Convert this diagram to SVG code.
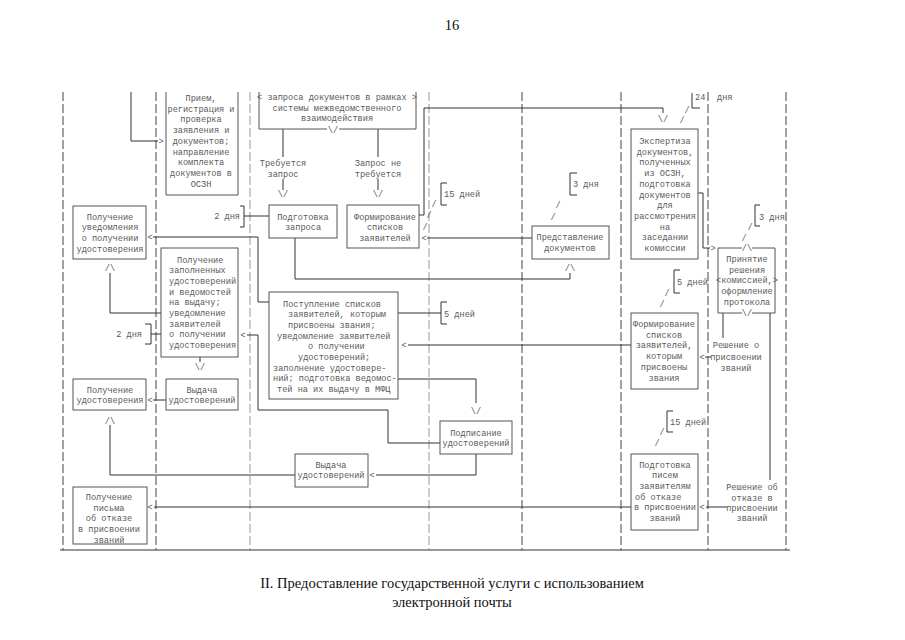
<svg xmlns="http://www.w3.org/2000/svg" width="905" height="640" viewBox="0 0 905 640">
<style>
.bg{fill:#fff}
.lane{stroke:#444;stroke-width:1;stroke-dasharray:9,3;fill:none}
.lanel{stroke:#999;stroke-width:1;stroke-dasharray:9,3;fill:none}
.box{fill:none;stroke:#555;stroke-width:1}
.c{fill:none;stroke:#333;stroke-width:1}
.t{font-family:"Liberation Mono","DejaVu Sans Mono",monospace;font-size:8.6px;fill:#5a5a5a}
.m{text-anchor:middle}
.e{text-anchor:end}
.s{font-family:"Liberation Serif","Times New Roman",serif;font-size:14.5px;fill:#111;text-anchor:middle}
</style>
<rect class="bg" x="0" y="0" width="905" height="640"/>
<text class="s" x="452" y="30">16</text>

<g id="lanes">
<line class="lane" x1="63" y1="92" x2="63" y2="550"/>
<line class="lane" x1="156" y1="92" x2="156" y2="550"/>
<line class="lanel" x1="250" y1="92" x2="250" y2="550"/>
<line class="lanel" x1="429" y1="92" x2="429" y2="550"/>
<line class="lane" x1="522" y1="92" x2="522" y2="550"/>
<line class="lane" x1="621" y1="92" x2="621" y2="550"/>
<line class="lane" x1="708" y1="92" x2="708" y2="550"/>
<line class="lane" x1="786" y1="92" x2="786" y2="550"/>
<line x1="60" y1="550" x2="790" y2="550" stroke="#333" stroke-width="1"/>
</g>

<g id="connectors">
<path class="c" d="M131,92 V141 H158"/>
<path class="c" d="M283,129 V157 M283,179 V190 M378,129 V157 M378,179 V190"/>
<path class="c" d="M240,206 H244 V227 H240 M244,216 H269"/>
<path class="c" d="M419,215 H424 V108 H663 V113"/>
<path class="c" d="M447,183 H441 V205 H447"/>
<path class="c" d="M427,238 H532"/>
<path class="c" d="M577,173 H570 V195 H577"/>
<path class="c" d="M295,238 V279 H570 V273"/>
<path class="c" d="M269,302 H258 V237 H153"/>
<path class="c" d="M161,313 H110 V273"/>
<path class="c" d="M145,324 H151 V344 H145 M151,334 H161"/>
<path class="c" d="M247,335 H258 V410 H388 V443 H440"/>
<path class="c" d="M200,357 V362"/>
<path class="c" d="M166,400 H153"/>
<path class="c" d="M295,475 H110 V425"/>
<path class="c" d="M398,379 H476 V403"/>
<path class="c" d="M476,454 V475 H376"/>
<path class="c" d="M447,302 H441 V324 H447 M398,313 H441"/>
<path class="c" d="M408,345 H631"/>
<path class="c" d="M698,193 H703 V248 H710"/>
<path class="c" d="M692,93 V108 H700"/>
<path class="c" d="M760,205 H755 V226 H760"/>
<path class="c" d="M680,270 H674 V293 H680"/>
<path class="c" d="M723,313 V338"/>
<path class="c" d="M705,357 H711"/>
<path class="c" d="M673,411 H667 V432 H673"/>
<path class="c" d="M770,313 V480"/>
<path class="c" d="M706,507 H727"/>
<path class="c" d="M631,507 H154"/>

<text class="t m" x="161" y="144">&gt;</text>
<text class="t m" x="283" y="197">\/</text>
<text class="t m" x="378" y="197">\/</text>
<text class="t m" x="434" y="207">/</text>
<text class="t m" x="429" y="218">/</text>
<text class="t m" x="425" y="230">/</text>
<text class="t m" x="424" y="241">&lt;</text>
<text class="t m" x="558" y="208">/</text>
<text class="t m" x="553" y="220">/</text>
<text class="t m" x="570" y="271">/\</text>
<text class="t m" x="150" y="240">&lt;</text>
<text class="t m" x="110" y="271">/\</text>
<text class="t m" x="243" y="338">&lt;</text>
<text class="t m" x="200" y="370">\/</text>
<text class="t m" x="150" y="403">&lt;</text>
<text class="t m" x="110" y="424">/\</text>
<text class="t m" x="372" y="478">&lt;</text>
<text class="t m" x="476" y="414">\/</text>
<text class="t m" x="404" y="348">&lt;</text>
<text class="t m" x="667" y="296">/</text>
<text class="t m" x="662" y="307">/</text>
<text class="t m" x="702" y="360">&lt;</text>
<text class="t m" x="713" y="251">&gt;</text>
<text class="t m" x="750" y="230">/</text>
<text class="t m" x="744" y="241">/</text>
<text class="t m" x="663" y="122">\/</text>
<text class="t m" x="682" y="123">/</text>
<text class="t m" x="687" y="113">/</text>
<text class="t m" x="662" y="435">/</text>
<text class="t m" x="657" y="446">/</text>
<text class="t m" x="702" y="510">&lt;</text>
<text class="t m" x="150" y="510">&lt;</text>

<text class="t m" x="283" y="165.5">Требуется</text>
<text class="t m" x="283" y="176.5">запрос</text>
<text class="t m" x="378" y="165.5">Запрос не</text>
<text class="t m" x="378" y="176.5">требуется</text>
<text class="t e" x="240" y="219">2 дня</text>
<text class="t" x="444" y="197">15 дней</text>
<text class="t" x="573" y="187">3 дня</text>
<text class="t" y="100"><tspan x="695">24</tspan><tspan x="717">дня</tspan></text>
<text class="t" x="759" y="219.5">3 дня</text>
<text class="t" x="677" y="285">5 дней</text>
<text class="t" x="444" y="316.5">5 дней</text>
<text class="t e" x="142" y="337">2 дня</text>
<text class="t" x="670" y="425">15 дней</text>
<text class="t m" x="736" y="348">Решение о</text>
<text class="t m" x="736" y="360">присвоении</text>
<text class="t m" x="736" y="371">званий</text>
<text class="t m" x="752" y="490">Решение об</text>
<text class="t m" x="752" y="500.5">отказе в</text>
<text class="t m" x="752" y="510.5">присвоении</text>
<text class="t m" x="752" y="521">званий</text>
</g>

<g id="n-priem">
<path class="box" d="M166,92 V195 H238 V92"/>
<text class="t m" x="201" y="101">Прием,</text>
<text class="t m" x="201" y="111.7">регистрация и</text>
<text class="t m" x="201" y="122.4">проверка</text>
<text class="t m" x="201" y="133.1">заявления и</text>
<text class="t m" x="201" y="143.8">документов;</text>
<text class="t m" x="201" y="154.5">направление</text>
<text class="t m" x="201" y="165.2">комплекта</text>
<text class="t m" x="201" y="175.9">документов в</text>
<text class="t m" x="201" y="186.6">ОСЗН</text>
</g>

<g id="n-zapros-mv">
<path class="box" d="M259,92 V129 H327 M339,129 H416 V92"/>
<text class="t m" x="337" y="100">&lt; запроса документов в рамках &gt;</text>
<text class="t m" x="337" y="110.7">системы межведомственного</text>
<text class="t m" x="337" y="121.4">взаимодействия</text>
<text class="t m" x="333" y="132.5">\/</text>
</g>

<g id="n-podg-zaprosa">
<rect class="box" x="269" y="205" width="68" height="33"/>
<text class="t m" x="303" y="219.5">Подготовка</text>
<text class="t m" x="303" y="230.2">запроса</text>
</g>

<g id="n-form-spiskov">
<rect class="box" x="347" y="205" width="72" height="43"/>
<text class="t m" x="385" y="219.5">Формирование</text>
<text class="t m" x="385" y="230.2">списков</text>
<text class="t m" x="385" y="240.9">заявителей</text>
</g>

<g id="n-predst">
<rect class="box" x="532" y="226" width="77" height="33"/>
<text class="t m" x="570" y="240">Представление</text>
<text class="t m" x="570" y="251">документов</text>
</g>

<g id="n-ekspertiza">
<rect class="box" x="631" y="129" width="67" height="130"/>
<text class="t m" x="665" y="144">Экспертиза</text>
<text class="t m" x="665" y="154.7">документов,</text>
<text class="t m" x="665" y="165.4">полученных</text>
<text class="t m" x="665" y="176.1">из ОСЗН,</text>
<text class="t m" x="665" y="186.8">подготовка</text>
<text class="t m" x="665" y="197.5">документов</text>
<text class="t m" x="665" y="208.2">для</text>
<text class="t m" x="665" y="218.9">рассмотрения</text>
<text class="t m" x="665" y="229.6">на</text>
<text class="t m" x="665" y="240.3">заседании</text>
<text class="t m" x="665" y="251">комиссии</text>
</g>

<g id="n-uved">
<rect class="box" x="73" y="206" width="73" height="53"/>
<text class="t m" x="110" y="219.5">Получение</text>
<text class="t m" x="110" y="230.2">уведомления</text>
<text class="t m" x="110" y="240.9">о получении</text>
<text class="t m" x="110" y="251.6">удостоверения</text>
</g>

<g id="n-poluch-zapoln">
<rect class="box" x="161" y="248" width="77" height="109"/>
<text class="t" x="177" y="262.5">Получение</text>
<text class="t" x="169" y="273.2">заполненных</text>
<text class="t" x="169" y="283.9">удостоверений</text>
<text class="t" x="169" y="294.6">и ведомостей</text>
<text class="t" x="169" y="305.3">на выдачу;</text>
<text class="t" x="169" y="316">уведомление</text>
<text class="t" x="169" y="326.7">заявителей</text>
<text class="t" x="169" y="337.4">о получении</text>
<text class="t" x="169" y="348.1">удостоверения</text>
</g>

<g id="n-postuplenie">
<rect class="box" x="269" y="292" width="129" height="107"/>
<text class="t" x="283" y="306.5">Поступление списков</text>
<text class="t" x="288" y="317.2">заявителей, которым</text>
<text class="t" x="288" y="327.9">присвоены звания;</text>
<text class="t" x="277" y="338.6">уведомление заявителей</text>
<text class="t" x="308" y="349.3">о получении</text>
<text class="t" x="298" y="360">удостоверений;</text>
<text class="t" x="273" y="370.7">заполнение удостовере-</text>
<text class="t" x="273" y="381.4">ний; подготовка ведомос-</text>
<text class="t" x="277" y="392.1">тей на их выдачу в МФЦ</text>
</g>

<g id="n-prinyatie">
<path class="box" d="M742,248 H718 V313 H742 M752,313 H775 V248 H752"/>
<text class="t m" x="747" y="251">/\</text>
<text class="t m" x="747" y="316">\/</text>
<text class="t m" x="747" y="262">Принятие</text>
<text class="t m" x="747" y="272.7">решения</text>
<text class="t m" x="747" y="283.4">&lt;комиссией,&gt;</text>
<text class="t m" x="747" y="294.1">оформление</text>
<text class="t m" x="747" y="304.8">протокола</text>
</g>

<g id="n-form-prisv">
<rect class="box" x="631" y="313" width="67" height="76"/>
<text class="t m" x="664" y="327">Формирование</text>
<text class="t m" x="664" y="337.7">списков</text>
<text class="t m" x="664" y="348.4">заявителей,</text>
<text class="t m" x="664" y="359.1">которым</text>
<text class="t m" x="664" y="369.8">присвоены</text>
<text class="t m" x="664" y="380.5">звания</text>
</g>

<g id="n-poluch-udost">
<rect class="box" x="73" y="379" width="73" height="31"/>
<text class="t m" x="110" y="392.5">Получение</text>
<text class="t m" x="110" y="403.2">удостоверения</text>
</g>

<g id="n-vydacha1">
<rect class="box" x="166" y="379" width="72" height="31"/>
<text class="t m" x="202" y="392.5">Выдача</text>
<text class="t m" x="202" y="403.2">удостоверений</text>
</g>

<g id="n-podpisanie">
<rect class="box" x="440" y="421" width="72" height="33"/>
<text class="t m" x="476" y="435.5">Подписание</text>
<text class="t m" x="476" y="446.2">удостоверений</text>
</g>

<g id="n-vydacha2">
<rect class="box" x="295" y="454" width="73" height="33"/>
<text class="t m" x="331" y="467.5">Выдача</text>
<text class="t m" x="331" y="478.2">удостоверений</text>
</g>

<g id="n-podg-pisem">
<rect class="box" x="631" y="454" width="67" height="76"/>
<text class="t m" x="665" y="467.5">Подготовка</text>
<text class="t m" x="665" y="478.2">писем</text>
<text class="t m" x="665" y="488.9">заявителям</text>
<text class="t" x="635" y="499.6">об отказе</text>
<text class="t m" x="665" y="510.3">в присвоении</text>
<text class="t m" x="665" y="521">званий</text>
</g>

<g id="n-poluch-pisma">
<rect class="box" x="73" y="487" width="74" height="57"/>
<text class="t m" x="109" y="500">Получение</text>
<text class="t m" x="109" y="510.7">письма</text>
<text class="t m" x="109" y="521.4">об отказе</text>
<text class="t m" x="109" y="532.1">в присвоении</text>
<text class="t m" x="109" y="542.5">званий</text>
</g>

<text class="s" x="452" y="588">II. Предоставление государственной услуги с использованием</text>
<text class="s" x="452" y="607">электронной почты</text>
</svg>
